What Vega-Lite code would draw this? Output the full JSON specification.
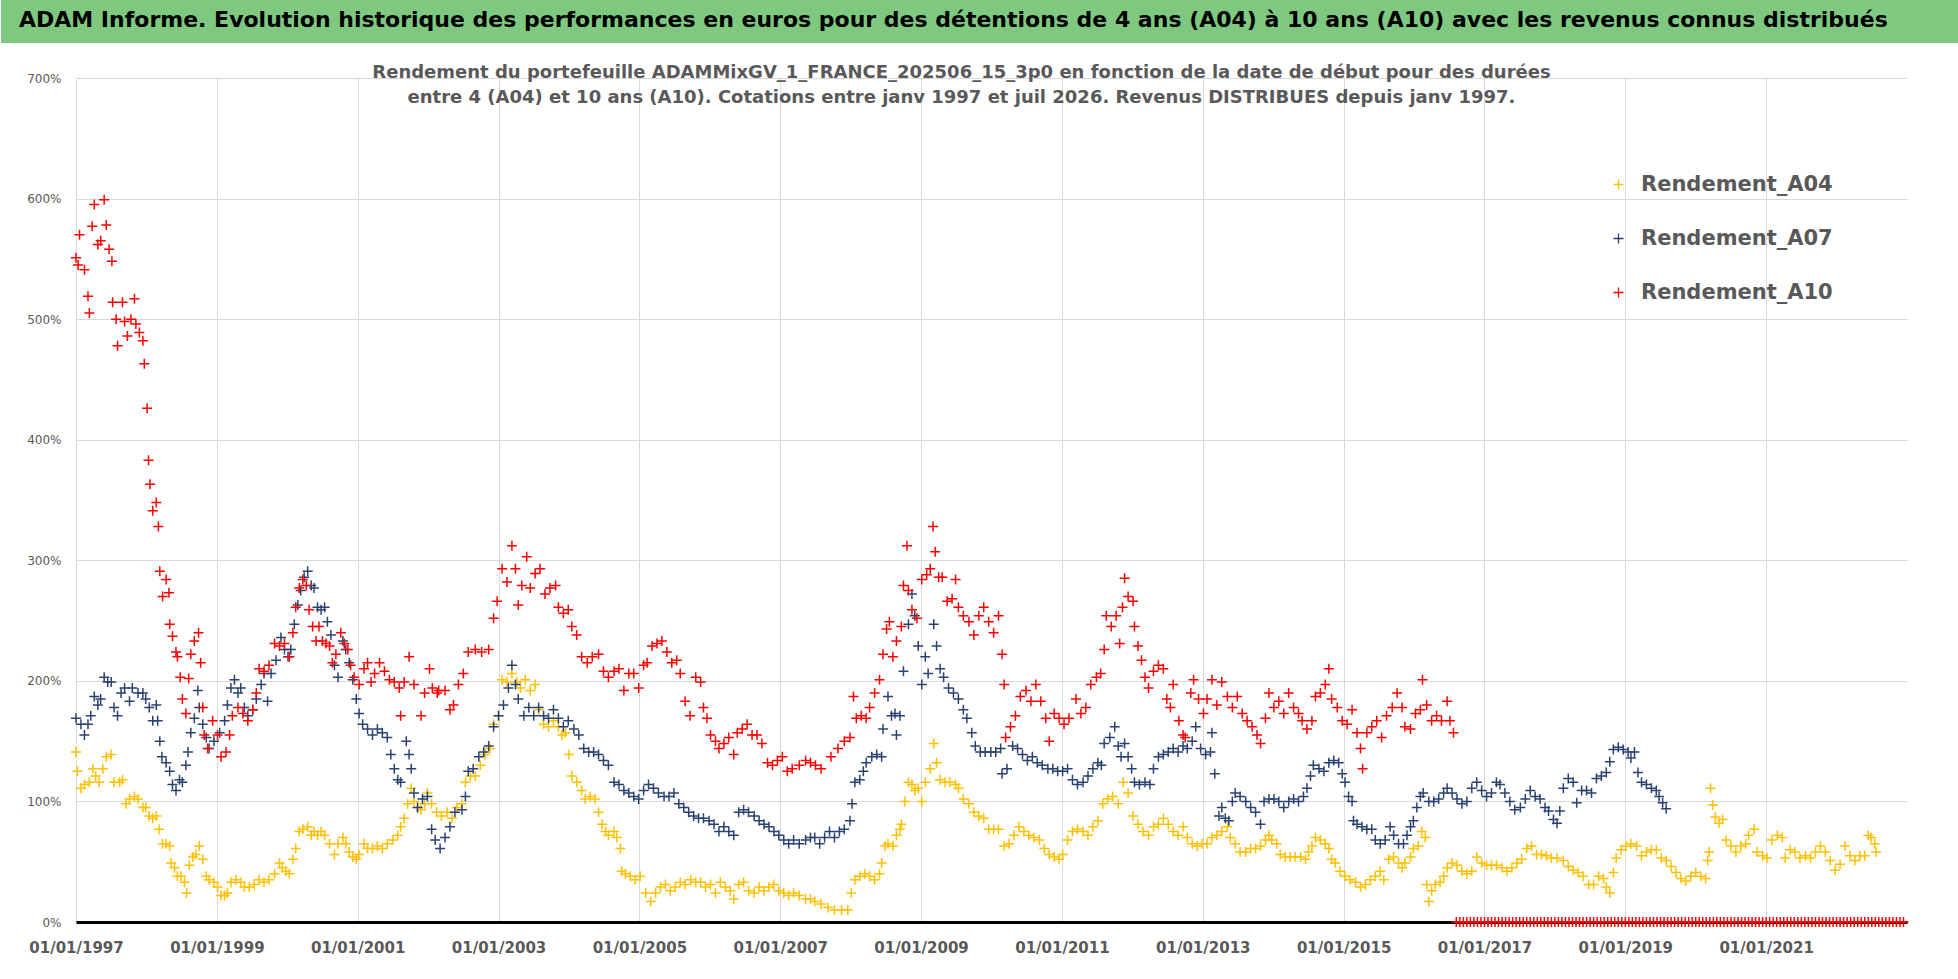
{
"$schema": "https://vega.github.io/schema/vega-lite/v6.json",
"background": "white",
"padding": 0,
"spacing": 21,
"config": {"view": {"stroke": null}, "font": "DejaVu Sans"},
"datasets": {
"a04": [
{"t":1997.00,"v":141},{"t":1997.02,"v":125},{"t":1997.07,"v":111},{"t":1997.12,"v":114},{"t":1997.19,"v":116},{"t":1997.24,"v":127},{"t":1997.28,"v":121},{"t":1997.33,"v":116},{"t":1997.38,"v":127},{"t":1997.43,"v":137},{"t":1997.50,"v":139},{"t":1997.54,"v":116},{"t":1997.62,"v":116},{"t":1997.66,"v":118},{"t":1997.71,"v":98},{"t":1997.76,"v":102},{"t":1997.83,"v":104},{"t":1997.88,"v":102},{"t":1997.95,"v":95},{"t":1997.99,"v":95},
{"t":1998.04,"v":88},{"t":1998.09,"v":86},{"t":1998.14,"v":88},{"t":1998.18,"v":77},{"t":1998.23,"v":65},{"t":1998.28,"v":65},{"t":1998.33,"v":63},{"t":1998.35,"v":49},{"t":1998.40,"v":45},{"t":1998.44,"v":38},{"t":1998.49,"v":38},{"t":1998.54,"v":33},{"t":1998.57,"v":24},{"t":1998.61,"v":47},{"t":1998.66,"v":54},{"t":1998.70,"v":56},{"t":1998.75,"v":63},{"t":1998.80,"v":52},{"t":1998.85,"v":38},{"t":1998.89,"v":35},{"t":1998.96,"v":33},
{"t":1999.01,"v":29},{"t":1999.06,"v":22},{"t":1999.11,"v":22},{"t":1999.15,"v":24},{"t":1999.20,"v":33},{"t":1999.27,"v":35},{"t":1999.34,"v":33},{"t":1999.39,"v":29},{"t":1999.46,"v":29},{"t":1999.53,"v":31},{"t":1999.60,"v":35},{"t":1999.67,"v":33},{"t":1999.74,"v":35},{"t":1999.82,"v":40},{"t":1999.89,"v":49},{"t":1999.93,"v":45},{"t":1999.98,"v":42},
{"t":2000.03,"v":40},{"t":2000.08,"v":52},{"t":2000.12,"v":61},{"t":2000.17,"v":75},{"t":2000.22,"v":77},{"t":2000.29,"v":79},{"t":2000.34,"v":72},{"t":2000.38,"v":75},{"t":2000.43,"v":72},{"t":2000.48,"v":75},{"t":2000.53,"v":72},{"t":2000.60,"v":65},{"t":2000.67,"v":56},{"t":2000.72,"v":65},{"t":2000.79,"v":70},{"t":2000.83,"v":65},{"t":2000.88,"v":58},{"t":2000.93,"v":54},{"t":2000.98,"v":52},
{"t":2001.02,"v":56},{"t":2001.09,"v":65},{"t":2001.14,"v":61},{"t":2001.21,"v":61},{"t":2001.28,"v":63},{"t":2001.35,"v":61},{"t":2001.42,"v":65},{"t":2001.50,"v":68},{"t":2001.57,"v":72},{"t":2001.61,"v":79},{"t":2001.66,"v":86},{"t":2001.71,"v":98},{"t":2001.76,"v":111},{"t":2001.80,"v":100},{"t":2001.85,"v":95},{"t":2001.90,"v":93},{"t":2001.95,"v":98},{"t":2001.99,"v":107},
{"t":2002.05,"v":98},{"t":2002.12,"v":91},{"t":2002.19,"v":88},{"t":2002.27,"v":91},{"t":2002.34,"v":86},{"t":2002.41,"v":95},{"t":2002.48,"v":98},{"t":2002.53,"v":116},{"t":2002.60,"v":121},{"t":2002.67,"v":121},{"t":2002.74,"v":130},{"t":2002.81,"v":139},{"t":2002.88,"v":144},{"t":2002.93,"v":164},
{"t":2003.00,"v":171},{"t":2003.05,"v":201},{"t":2003.12,"v":199},{"t":2003.19,"v":206},{"t":2003.26,"v":199},{"t":2003.31,"v":194},{"t":2003.38,"v":201},{"t":2003.45,"v":192},{"t":2003.52,"v":197},{"t":2003.57,"v":176},{"t":2003.64,"v":164},{"t":2003.71,"v":162},{"t":2003.78,"v":167},{"t":2003.85,"v":162},{"t":2003.90,"v":155},{"t":2003.95,"v":157},
{"t":2004.00,"v":139},{"t":2004.04,"v":121},{"t":2004.11,"v":116},{"t":2004.18,"v":109},{"t":2004.23,"v":102},{"t":2004.30,"v":104},{"t":2004.37,"v":102},{"t":2004.42,"v":91},{"t":2004.47,"v":81},{"t":2004.52,"v":75},{"t":2004.56,"v":72},{"t":2004.64,"v":75},{"t":2004.68,"v":70},{"t":2004.73,"v":61},{"t":2004.75,"v":42},{"t":2004.80,"v":40},{"t":2004.87,"v":38},{"t":2004.94,"v":35},
{"t":2005.01,"v":38},{"t":2005.09,"v":24},{"t":2005.16,"v":17},{"t":2005.23,"v":24},{"t":2005.30,"v":29},{"t":2005.37,"v":31},{"t":2005.44,"v":26},{"t":2005.51,"v":29},{"t":2005.58,"v":33},{"t":2005.65,"v":31},{"t":2005.73,"v":35},{"t":2005.80,"v":33},{"t":2005.87,"v":33},{"t":2005.94,"v":29},
{"t":2006.01,"v":31},{"t":2006.08,"v":24},{"t":2006.15,"v":33},{"t":2006.22,"v":29},{"t":2006.29,"v":26},{"t":2006.34,"v":19},{"t":2006.41,"v":31},{"t":2006.48,"v":33},{"t":2006.55,"v":26},{"t":2006.63,"v":24},{"t":2006.70,"v":29},{"t":2006.77,"v":26},{"t":2006.84,"v":29},{"t":2006.91,"v":31},{"t":2006.98,"v":26},
{"t":2007.05,"v":24},{"t":2007.12,"v":22},{"t":2007.19,"v":24},{"t":2007.27,"v":22},{"t":2007.36,"v":19},{"t":2007.43,"v":19},{"t":2007.49,"v":17},{"t":2007.58,"v":15},{"t":2007.68,"v":12},{"t":2007.77,"v":10},{"t":2007.87,"v":10},{"t":2007.96,"v":10},
{"t":2008.01,"v":24},{"t":2008.06,"v":35},{"t":2008.13,"v":38},{"t":2008.20,"v":40},{"t":2008.27,"v":38},{"t":2008.34,"v":35},{"t":2008.41,"v":40},{"t":2008.44,"v":49},{"t":2008.49,"v":63},{"t":2008.53,"v":65},{"t":2008.60,"v":63},{"t":2008.65,"v":72},{"t":2008.70,"v":77},{"t":2008.72,"v":81},{"t":2008.77,"v":100},{"t":2008.82,"v":116},{"t":2008.87,"v":114},{"t":2008.91,"v":109},{"t":2008.96,"v":111},
{"t":2009.01,"v":100},{"t":2009.06,"v":116},{"t":2009.13,"v":127},{"t":2009.18,"v":148},{"t":2009.22,"v":132},{"t":2009.27,"v":118},{"t":2009.34,"v":116},{"t":2009.41,"v":116},{"t":2009.49,"v":114},{"t":2009.53,"v":111},{"t":2009.60,"v":102},{"t":2009.68,"v":98},{"t":2009.75,"v":91},{"t":2009.82,"v":88},{"t":2009.89,"v":86},{"t":2009.96,"v":77},
{"t":2010.03,"v":77},{"t":2010.10,"v":77},{"t":2010.18,"v":63},{"t":2010.25,"v":65},{"t":2010.32,"v":72},{"t":2010.39,"v":79},{"t":2010.46,"v":75},{"t":2010.53,"v":72},{"t":2010.60,"v":70},{"t":2010.68,"v":68},{"t":2010.75,"v":61},{"t":2010.82,"v":56},{"t":2010.89,"v":54},{"t":2010.96,"v":52},
{"t":2011.01,"v":56},{"t":2011.08,"v":68},{"t":2011.15,"v":75},{"t":2011.22,"v":77},{"t":2011.30,"v":75},{"t":2011.37,"v":72},{"t":2011.44,"v":79},{"t":2011.51,"v":84},{"t":2011.58,"v":98},{"t":2011.65,"v":102},{"t":2011.72,"v":104},{"t":2011.80,"v":98},{"t":2011.87,"v":116},{"t":2011.94,"v":107},
{"t":2012.01,"v":88},{"t":2012.08,"v":81},{"t":2012.15,"v":75},{"t":2012.23,"v":72},{"t":2012.30,"v":79},{"t":2012.37,"v":81},{"t":2012.44,"v":86},{"t":2012.51,"v":81},{"t":2012.58,"v":75},{"t":2012.65,"v":72},{"t":2012.72,"v":79},{"t":2012.78,"v":70},{"t":2012.85,"v":65},{"t":2012.92,"v":63},{"t":2012.99,"v":65},
{"t":2013.06,"v":65},{"t":2013.13,"v":70},{"t":2013.20,"v":72},{"t":2013.27,"v":75},{"t":2013.35,"v":79},{"t":2013.39,"v":70},{"t":2013.46,"v":65},{"t":2013.53,"v":58},{"t":2013.61,"v":58},{"t":2013.68,"v":61},{"t":2013.75,"v":61},{"t":2013.82,"v":63},{"t":2013.89,"v":68},{"t":2013.94,"v":72},{"t":2013.98,"v":68},
{"t":2014.05,"v":65},{"t":2014.10,"v":56},{"t":2014.17,"v":54},{"t":2014.24,"v":54},{"t":2014.31,"v":54},{"t":2014.39,"v":54},{"t":2014.46,"v":52},{"t":2014.50,"v":58},{"t":2014.55,"v":63},{"t":2014.60,"v":70},{"t":2014.67,"v":68},{"t":2014.74,"v":65},{"t":2014.79,"v":61},{"t":2014.83,"v":52},{"t":2014.88,"v":49},{"t":2014.95,"v":42},
{"t":2015.02,"v":38},{"t":2015.09,"v":35},{"t":2015.17,"v":33},{"t":2015.24,"v":29},{"t":2015.31,"v":31},{"t":2015.38,"v":35},{"t":2015.45,"v":38},{"t":2015.52,"v":42},{"t":2015.57,"v":35},{"t":2015.64,"v":52},{"t":2015.71,"v":54},{"t":2015.78,"v":49},{"t":2015.83,"v":45},{"t":2015.87,"v":49},{"t":2015.95,"v":54},{"t":2015.99,"v":61},
{"t":2016.06,"v":63},{"t":2016.11,"v":75},{"t":2016.16,"v":70},{"t":2016.18,"v":31},{"t":2016.21,"v":17},{"t":2016.25,"v":26},{"t":2016.30,"v":31},{"t":2016.37,"v":33},{"t":2016.42,"v":38},{"t":2016.47,"v":45},{"t":2016.54,"v":49},{"t":2016.61,"v":47},{"t":2016.68,"v":42},{"t":2016.75,"v":40},{"t":2016.82,"v":42},{"t":2016.89,"v":54},{"t":2016.96,"v":49},
{"t":2017.03,"v":47},{"t":2017.10,"v":47},{"t":2017.17,"v":47},{"t":2017.25,"v":45},{"t":2017.32,"v":42},{"t":2017.39,"v":45},{"t":2017.46,"v":49},{"t":2017.53,"v":52},{"t":2017.60,"v":61},{"t":2017.67,"v":63},{"t":2017.74,"v":56},{"t":2017.81,"v":56},{"t":2017.88,"v":55},{"t":2017.95,"v":53},
{"t":2018.03,"v":53},{"t":2018.12,"v":51},{"t":2018.19,"v":46},{"t":2018.26,"v":43},{"t":2018.33,"v":41},{"t":2018.40,"v":38},{"t":2018.48,"v":31},{"t":2018.55,"v":31},{"t":2018.62,"v":38},{"t":2018.69,"v":36},{"t":2018.73,"v":29},{"t":2018.78,"v":24},{"t":2018.83,"v":41},{"t":2018.87,"v":53},{"t":2018.94,"v":60},
{"t":2019.01,"v":63},{"t":2019.08,"v":65},{"t":2019.16,"v":63},{"t":2019.23,"v":55},{"t":2019.30,"v":58},{"t":2019.37,"v":60},{"t":2019.44,"v":60},{"t":2019.51,"v":53},{"t":2019.58,"v":51},{"t":2019.65,"v":46},{"t":2019.72,"v":41},{"t":2019.79,"v":36},{"t":2019.86,"v":34},{"t":2019.93,"v":38},
{"t":2020.00,"v":41},{"t":2020.07,"v":38},{"t":2020.14,"v":36},{"t":2020.17,"v":51},{"t":2020.19,"v":58},{"t":2020.21,"v":111},{"t":2020.24,"v":97},{"t":2020.28,"v":87},{"t":2020.33,"v":82},{"t":2020.38,"v":85},{"t":2020.43,"v":68},{"t":2020.50,"v":63},{"t":2020.57,"v":58},{"t":2020.64,"v":63},{"t":2020.71,"v":65},{"t":2020.75,"v":72},{"t":2020.83,"v":77},{"t":2020.87,"v":58},{"t":2020.95,"v":55},
{"t":2021.01,"v":53},{"t":2021.08,"v":68},{"t":2021.16,"v":72},{"t":2021.23,"v":70},{"t":2021.27,"v":53},{"t":2021.34,"v":60},{"t":2021.41,"v":58},{"t":2021.48,"v":53},{"t":2021.56,"v":55},{"t":2021.63,"v":53},{"t":2021.70,"v":58},{"t":2021.77,"v":63},{"t":2021.84,"v":58},{"t":2021.91,"v":51},{"t":2021.98,"v":43},
{"t":2022.05,"v":48},{"t":2022.12,"v":63},{"t":2022.19,"v":55},{"t":2022.26,"v":51},{"t":2022.33,"v":55},{"t":2022.40,"v":55},{"t":2022.45,"v":72},{"t":2022.49,"v":70},{"t":2022.54,"v":65},{"t":2022.56,"v":58}
],
"a07": [
{"t":1997.00,"v":169},{"t":1997.07,"v":164},{"t":1997.12,"v":155},{"t":1997.17,"v":164},{"t":1997.21,"v":171},{"t":1997.26,"v":187},{"t":1997.31,"v":180},{"t":1997.35,"v":185},{"t":1997.40,"v":203},{"t":1997.45,"v":199},{"t":1997.50,"v":199},{"t":1997.54,"v":178},{"t":1997.59,"v":171},{"t":1997.64,"v":190},{"t":1997.69,"v":194},{"t":1997.76,"v":183},{"t":1997.80,"v":194},{"t":1997.88,"v":190},{"t":1997.95,"v":190},{"t":1997.99,"v":185},
{"t":1998.04,"v":178},{"t":1998.09,"v":167},{"t":1998.14,"v":180},{"t":1998.16,"v":167},{"t":1998.19,"v":150},{"t":1998.22,"v":137},{"t":1998.28,"v":132},{"t":1998.33,"v":125},{"t":1998.37,"v":114},{"t":1998.42,"v":109},{"t":1998.47,"v":118},{"t":1998.51,"v":116},{"t":1998.56,"v":130},{"t":1998.59,"v":141},{"t":1998.63,"v":157},{"t":1998.68,"v":169},{"t":1998.73,"v":192},{"t":1998.75,"v":178},{"t":1998.80,"v":164},{"t":1998.85,"v":153},{"t":1998.89,"v":144},{"t":1998.96,"v":150},
{"t":1999.04,"v":157},{"t":1999.11,"v":167},{"t":1999.15,"v":180},{"t":1999.20,"v":194},{"t":1999.25,"v":201},{"t":1999.30,"v":190},{"t":1999.34,"v":194},{"t":1999.39,"v":178},{"t":1999.44,"v":171},{"t":1999.51,"v":176},{"t":1999.56,"v":185},{"t":1999.63,"v":197},{"t":1999.67,"v":206},{"t":1999.72,"v":183},{"t":1999.77,"v":206},{"t":1999.84,"v":217},{"t":1999.91,"v":236},{"t":1999.96,"v":226},
{"t":2000.01,"v":220},{"t":2000.05,"v":226},{"t":2000.10,"v":247},{"t":2000.15,"v":263},{"t":2000.19,"v":275},{"t":2000.24,"v":286},{"t":2000.29,"v":291},{"t":2000.34,"v":279},{"t":2000.38,"v":277},{"t":2000.43,"v":261},{"t":2000.48,"v":259},{"t":2000.53,"v":261},{"t":2000.57,"v":249},{"t":2000.62,"v":238},{"t":2000.67,"v":213},{"t":2000.72,"v":203},{"t":2000.79,"v":233},{"t":2000.83,"v":226},{"t":2000.88,"v":215},{"t":2000.93,"v":201},{"t":2000.98,"v":185},
{"t":2001.02,"v":173},{"t":2001.07,"v":164},{"t":2001.14,"v":160},{"t":2001.21,"v":155},{"t":2001.28,"v":160},{"t":2001.35,"v":157},{"t":2001.42,"v":153},{"t":2001.47,"v":139},{"t":2001.52,"v":127},{"t":2001.57,"v":118},{"t":2001.61,"v":116},{"t":2001.69,"v":150},{"t":2001.73,"v":139},{"t":2001.76,"v":127},{"t":2001.80,"v":107},{"t":2001.85,"v":95},{"t":2001.92,"v":102},{"t":2001.99,"v":104},
{"t":2002.05,"v":77},{"t":2002.10,"v":68},{"t":2002.17,"v":61},{"t":2002.24,"v":70},{"t":2002.31,"v":79},{"t":2002.38,"v":91},{"t":2002.48,"v":93},{"t":2002.53,"v":104},{"t":2002.57,"v":125},{"t":2002.64,"v":127},{"t":2002.72,"v":137},{"t":2002.79,"v":141},{"t":2002.86,"v":146},{"t":2002.93,"v":162},
{"t":2003.00,"v":171},{"t":2003.07,"v":180},{"t":2003.14,"v":194},{"t":2003.19,"v":213},{"t":2003.24,"v":197},{"t":2003.28,"v":185},{"t":2003.36,"v":171},{"t":2003.43,"v":178},{"t":2003.50,"v":171},{"t":2003.57,"v":178},{"t":2003.64,"v":171},{"t":2003.71,"v":169},{"t":2003.78,"v":176},{"t":2003.85,"v":169},{"t":2003.92,"v":162},{"t":2003.99,"v":167},
{"t":2004.07,"v":160},{"t":2004.14,"v":155},{"t":2004.21,"v":144},{"t":2004.28,"v":141},{"t":2004.35,"v":141},{"t":2004.42,"v":139},{"t":2004.49,"v":134},{"t":2004.56,"v":130},{"t":2004.64,"v":116},{"t":2004.71,"v":114},{"t":2004.78,"v":109},{"t":2004.85,"v":107},{"t":2004.92,"v":104},{"t":2004.99,"v":102},
{"t":2005.06,"v":109},{"t":2005.13,"v":114},{"t":2005.20,"v":111},{"t":2005.27,"v":107},{"t":2005.35,"v":104},{"t":2005.42,"v":104},{"t":2005.49,"v":107},{"t":2005.56,"v":98},{"t":2005.63,"v":95},{"t":2005.70,"v":91},{"t":2005.77,"v":88},{"t":2005.84,"v":86},{"t":2005.91,"v":86},{"t":2005.99,"v":84},
{"t":2006.06,"v":81},{"t":2006.13,"v":75},{"t":2006.20,"v":79},{"t":2006.27,"v":75},{"t":2006.34,"v":72},{"t":2006.41,"v":91},{"t":2006.48,"v":93},{"t":2006.55,"v":91},{"t":2006.63,"v":88},{"t":2006.70,"v":84},{"t":2006.77,"v":81},{"t":2006.84,"v":79},{"t":2006.91,"v":75},{"t":2006.98,"v":72},
{"t":2007.05,"v":68},{"t":2007.12,"v":65},{"t":2007.19,"v":68},{"t":2007.27,"v":65},{"t":2007.36,"v":68},{"t":2007.43,"v":70},{"t":2007.49,"v":70},{"t":2007.56,"v":65},{"t":2007.63,"v":70},{"t":2007.70,"v":75},{"t":2007.77,"v":70},{"t":2007.84,"v":75},{"t":2007.91,"v":77},{"t":2007.99,"v":84},
{"t":2008.02,"v":98},{"t":2008.06,"v":116},{"t":2008.13,"v":118},{"t":2008.18,"v":125},{"t":2008.22,"v":132},{"t":2008.30,"v":137},{"t":2008.37,"v":139},{"t":2008.44,"v":137},{"t":2008.46,"v":160},{"t":2008.53,"v":187},{"t":2008.58,"v":171},{"t":2008.63,"v":173},{"t":2008.65,"v":155},{"t":2008.70,"v":171},{"t":2008.75,"v":208},{"t":2008.82,"v":247},{"t":2008.87,"v":272},{"t":2008.91,"v":254},{"t":2008.96,"v":229},
{"t":2009.01,"v":197},{"t":2009.06,"v":220},{"t":2009.10,"v":206},{"t":2009.18,"v":247},{"t":2009.22,"v":229},{"t":2009.27,"v":210},{"t":2009.32,"v":203},{"t":2009.39,"v":194},{"t":2009.46,"v":190},{"t":2009.53,"v":185},{"t":2009.60,"v":176},{"t":2009.65,"v":169},{"t":2009.72,"v":157},{"t":2009.77,"v":146},{"t":2009.84,"v":141},{"t":2009.91,"v":141},{"t":2009.99,"v":141},
{"t":2010.06,"v":141},{"t":2010.13,"v":144},{"t":2010.15,"v":123},{"t":2010.22,"v":127},{"t":2010.30,"v":146},{"t":2010.37,"v":144},{"t":2010.44,"v":139},{"t":2010.51,"v":134},{"t":2010.58,"v":137},{"t":2010.65,"v":132},{"t":2010.72,"v":130},{"t":2010.80,"v":127},{"t":2010.87,"v":127},{"t":2010.94,"v":125},
{"t":2011.01,"v":125},{"t":2011.08,"v":127},{"t":2011.15,"v":118},{"t":2011.22,"v":114},{"t":2011.30,"v":116},{"t":2011.37,"v":121},{"t":2011.44,"v":127},{"t":2011.51,"v":132},{"t":2011.56,"v":130},{"t":2011.60,"v":148},{"t":2011.68,"v":153},{"t":2011.75,"v":162},{"t":2011.80,"v":146},{"t":2011.84,"v":137},{"t":2011.89,"v":148},{"t":2011.94,"v":137},{"t":2011.99,"v":127},
{"t":2012.03,"v":116},{"t":2012.10,"v":114},{"t":2012.18,"v":116},{"t":2012.25,"v":114},{"t":2012.30,"v":127},{"t":2012.37,"v":137},{"t":2012.44,"v":139},{"t":2012.51,"v":141},{"t":2012.58,"v":144},{"t":2012.65,"v":141},{"t":2012.72,"v":146},{"t":2012.78,"v":144},{"t":2012.85,"v":150},{"t":2012.90,"v":162},{"t":2012.97,"v":144},
{"t":2013.04,"v":139},{"t":2013.11,"v":141},{"t":2013.13,"v":157},{"t":2013.17,"v":123},{"t":2013.23,"v":88},{"t":2013.27,"v":95},{"t":2013.32,"v":86},{"t":2013.37,"v":84},{"t":2013.42,"v":100},{"t":2013.46,"v":107},{"t":2013.53,"v":104},{"t":2013.61,"v":100},{"t":2013.68,"v":95},{"t":2013.75,"v":91},{"t":2013.82,"v":81},{"t":2013.87,"v":100},{"t":2013.94,"v":102},
{"t":2014.01,"v":102},{"t":2014.08,"v":100},{"t":2014.15,"v":95},{"t":2014.22,"v":100},{"t":2014.29,"v":102},{"t":2014.36,"v":100},{"t":2014.43,"v":104},{"t":2014.48,"v":111},{"t":2014.53,"v":121},{"t":2014.57,"v":130},{"t":2014.65,"v":127},{"t":2014.72,"v":125},{"t":2014.79,"v":132},{"t":2014.86,"v":134},{"t":2014.93,"v":132},{"t":2014.98,"v":123},
{"t":2015.02,"v":116},{"t":2015.07,"v":104},{"t":2015.12,"v":100},{"t":2015.14,"v":84},{"t":2015.19,"v":81},{"t":2015.26,"v":79},{"t":2015.33,"v":77},{"t":2015.40,"v":77},{"t":2015.45,"v":68},{"t":2015.52,"v":65},{"t":2015.59,"v":68},{"t":2015.66,"v":79},{"t":2015.71,"v":72},{"t":2015.78,"v":65},{"t":2015.85,"v":65},{"t":2015.90,"v":72},{"t":2015.95,"v":79},{"t":2015.99,"v":84},
{"t":2016.04,"v":95},{"t":2016.09,"v":104},{"t":2016.13,"v":107},{"t":2016.21,"v":100},{"t":2016.28,"v":100},{"t":2016.35,"v":102},{"t":2016.42,"v":107},{"t":2016.47,"v":111},{"t":2016.54,"v":107},{"t":2016.61,"v":102},{"t":2016.68,"v":98},{"t":2016.75,"v":100},{"t":2016.82,"v":111},{"t":2016.89,"v":116},{"t":2016.96,"v":109},
{"t":2017.03,"v":104},{"t":2017.10,"v":107},{"t":2017.17,"v":116},{"t":2017.22,"v":114},{"t":2017.29,"v":107},{"t":2017.36,"v":100},{"t":2017.43,"v":93},{"t":2017.51,"v":95},{"t":2017.58,"v":102},{"t":2017.65,"v":109},{"t":2017.72,"v":104},{"t":2017.79,"v":102},{"t":2017.86,"v":95},{"t":2017.91,"v":92},{"t":2017.98,"v":85},
{"t":2018.03,"v":82},{"t":2018.07,"v":92},{"t":2018.12,"v":111},{"t":2018.19,"v":119},{"t":2018.26,"v":116},{"t":2018.31,"v":99},{"t":2018.38,"v":109},{"t":2018.45,"v":109},{"t":2018.52,"v":107},{"t":2018.59,"v":119},{"t":2018.66,"v":121},{"t":2018.73,"v":124},{"t":2018.78,"v":133},{"t":2018.83,"v":143},{"t":2018.90,"v":145},{"t":2018.97,"v":143},
{"t":2019.04,"v":141},{"t":2019.08,"v":136},{"t":2019.13,"v":141},{"t":2019.18,"v":124},{"t":2019.23,"v":116},{"t":2019.30,"v":114},{"t":2019.37,"v":111},{"t":2019.44,"v":109},{"t":2019.48,"v":104},{"t":2019.53,"v":99},{"t":2019.58,"v":94}
],
"a10": [
{"t":1997.00,"v":551},{"t":1997.03,"v":545},{"t":1997.05,"v":570},{"t":1997.12,"v":541},{"t":1997.17,"v":519},{"t":1997.19,"v":505},{"t":1997.23,"v":577},{"t":1997.26,"v":595},{"t":1997.31,"v":562},{"t":1997.35,"v":565},{"t":1997.40,"v":599},{"t":1997.43,"v":578},{"t":1997.47,"v":558},{"t":1997.51,"v":548},{"t":1997.52,"v":514},{"t":1997.57,"v":500},{"t":1997.59,"v":478},{"t":1997.66,"v":514},{"t":1997.69,"v":498},{"t":1997.73,"v":486},{"t":1997.78,"v":500},{"t":1997.83,"v":517},{"t":1997.85,"v":496},{"t":1997.90,"v":489},{"t":1997.95,"v":482},{"t":1997.97,"v":463},
{"t":1998.01,"v":426},{"t":1998.03,"v":383},{"t":1998.05,"v":363},{"t":1998.09,"v":341},{"t":1998.14,"v":348},{"t":1998.17,"v":328},{"t":1998.19,"v":291},{"t":1998.23,"v":270},{"t":1998.28,"v":284},{"t":1998.32,"v":273},{"t":1998.33,"v":247},{"t":1998.37,"v":237},{"t":1998.42,"v":224},{"t":1998.44,"v":220},{"t":1998.48,"v":203},{"t":1998.51,"v":185},{"t":1998.56,"v":173},{"t":1998.60,"v":202},{"t":1998.63,"v":222},{"t":1998.68,"v":233},{"t":1998.74,"v":240},{"t":1998.77,"v":215},{"t":1998.80,"v":178},{"t":1998.82,"v":155},{"t":1998.87,"v":144},{"t":1998.94,"v":167},
{"t":1999.01,"v":155},{"t":1999.06,"v":137},{"t":1999.13,"v":141},{"t":1999.18,"v":155},{"t":1999.22,"v":171},{"t":1999.30,"v":178},{"t":1999.37,"v":173},{"t":1999.44,"v":167},{"t":1999.51,"v":176},{"t":1999.56,"v":190},{"t":1999.60,"v":210},{"t":1999.67,"v":208},{"t":1999.74,"v":213},{"t":1999.82,"v":231},{"t":1999.89,"v":229},{"t":1999.96,"v":231},
{"t":2000.03,"v":220},{"t":2000.08,"v":240},{"t":2000.12,"v":261},{"t":2000.17,"v":277},{"t":2000.22,"v":284},{"t":2000.27,"v":279},{"t":2000.31,"v":259},{"t":2000.36,"v":245},{"t":2000.41,"v":233},{"t":2000.45,"v":245},{"t":2000.50,"v":233},{"t":2000.55,"v":231},{"t":2000.60,"v":229},{"t":2000.64,"v":215},{"t":2000.69,"v":222},{"t":2000.76,"v":240},{"t":2000.81,"v":231},{"t":2000.86,"v":226},{"t":2000.90,"v":213},{"t":2000.95,"v":203},
{"t":2001.02,"v":197},{"t":2001.09,"v":210},{"t":2001.14,"v":215},{"t":2001.19,"v":199},{"t":2001.24,"v":206},{"t":2001.31,"v":215},{"t":2001.38,"v":208},{"t":2001.45,"v":201},{"t":2001.52,"v":199},{"t":2001.59,"v":194},{"t":2001.61,"v":171},{"t":2001.66,"v":199},{"t":2001.73,"v":220},{"t":2001.80,"v":197},{"t":2001.90,"v":171},{"t":2001.95,"v":190},
{"t":2002.02,"v":210},{"t":2002.06,"v":194},{"t":2002.13,"v":190},{"t":2002.15,"v":192},{"t":2002.24,"v":192},{"t":2002.31,"v":176},{"t":2002.36,"v":180},{"t":2002.43,"v":197},{"t":2002.50,"v":206},{"t":2002.57,"v":224},{"t":2002.67,"v":226},{"t":2002.76,"v":224},{"t":2002.86,"v":226},{"t":2002.93,"v":252},{"t":2002.98,"v":266},
{"t":2003.05,"v":293},{"t":2003.12,"v":282},{"t":2003.19,"v":312},{"t":2003.24,"v":293},{"t":2003.28,"v":263},{"t":2003.33,"v":279},{"t":2003.40,"v":303},{"t":2003.45,"v":277},{"t":2003.52,"v":289},{"t":2003.59,"v":293},{"t":2003.66,"v":272},{"t":2003.73,"v":277},{"t":2003.81,"v":279},{"t":2003.85,"v":261},{"t":2003.92,"v":256},{"t":2003.99,"v":259},
{"t":2004.04,"v":245},{"t":2004.11,"v":238},{"t":2004.18,"v":220},{"t":2004.26,"v":215},{"t":2004.33,"v":220},{"t":2004.42,"v":222},{"t":2004.49,"v":208},{"t":2004.56,"v":203},{"t":2004.64,"v":208},{"t":2004.71,"v":210},{"t":2004.78,"v":192},{"t":2004.85,"v":206},{"t":2004.92,"v":206},{"t":2004.99,"v":194},
{"t":2005.06,"v":213},{"t":2005.11,"v":215},{"t":2005.18,"v":229},{"t":2005.25,"v":231},{"t":2005.32,"v":233},{"t":2005.39,"v":224},{"t":2005.46,"v":215},{"t":2005.53,"v":217},{"t":2005.58,"v":206},{"t":2005.65,"v":183},{"t":2005.72,"v":171},{"t":2005.80,"v":203},{"t":2005.87,"v":199},{"t":2005.91,"v":178},{"t":2005.96,"v":169},
{"t":2006.01,"v":155},{"t":2006.08,"v":150},{"t":2006.13,"v":144},{"t":2006.20,"v":148},{"t":2006.27,"v":153},{"t":2006.34,"v":139},{"t":2006.39,"v":157},{"t":2006.46,"v":160},{"t":2006.53,"v":164},{"t":2006.60,"v":155},{"t":2006.67,"v":155},{"t":2006.74,"v":148},{"t":2006.82,"v":132},{"t":2006.89,"v":130},{"t":2006.96,"v":134},
{"t":2007.03,"v":137},{"t":2007.10,"v":125},{"t":2007.17,"v":127},{"t":2007.27,"v":130},{"t":2007.36,"v":134},{"t":2007.43,"v":132},{"t":2007.50,"v":130},{"t":2007.58,"v":127},{"t":2007.72,"v":137},{"t":2007.82,"v":144},{"t":2007.91,"v":150},{"t":2007.99,"v":153},
{"t":2008.04,"v":187},{"t":2008.08,"v":169},{"t":2008.15,"v":171},{"t":2008.22,"v":169},{"t":2008.27,"v":178},{"t":2008.34,"v":190},{"t":2008.41,"v":201},{"t":2008.46,"v":222},{"t":2008.51,"v":243},{"t":2008.55,"v":249},{"t":2008.60,"v":220},{"t":2008.65,"v":233},{"t":2008.72,"v":245},{"t":2008.75,"v":279},{"t":2008.80,"v":312},{"t":2008.82,"v":275},{"t":2008.87,"v":259},{"t":2008.94,"v":252},
{"t":2009.01,"v":284},{"t":2009.08,"v":288},{"t":2009.13,"v":293},{"t":2009.17,"v":328},{"t":2009.20,"v":307},{"t":2009.25,"v":286},{"t":2009.30,"v":286},{"t":2009.37,"v":266},{"t":2009.44,"v":268},{"t":2009.49,"v":284},{"t":2009.53,"v":261},{"t":2009.60,"v":254},{"t":2009.68,"v":249},{"t":2009.75,"v":238},{"t":2009.82,"v":254},{"t":2009.89,"v":261},{"t":2009.96,"v":249},
{"t":2010.03,"v":240},{"t":2010.10,"v":254},{"t":2010.15,"v":222},{"t":2010.18,"v":197},{"t":2010.20,"v":153},{"t":2010.27,"v":162},{"t":2010.34,"v":171},{"t":2010.41,"v":187},{"t":2010.49,"v":192},{"t":2010.56,"v":183},{"t":2010.63,"v":197},{"t":2010.70,"v":183},{"t":2010.77,"v":169},{"t":2010.82,"v":150},{"t":2010.89,"v":173},{"t":2010.96,"v":169},
{"t":2011.03,"v":164},{"t":2011.10,"v":169},{"t":2011.20,"v":185},{"t":2011.27,"v":173},{"t":2011.34,"v":178},{"t":2011.41,"v":197},{"t":2011.49,"v":203},{"t":2011.55,"v":206},{"t":2011.60,"v":226},{"t":2011.63,"v":254},{"t":2011.70,"v":245},{"t":2011.77,"v":254},{"t":2011.82,"v":231},{"t":2011.86,"v":261},{"t":2011.89,"v":285},{"t":2011.94,"v":270},
{"t":2012.01,"v":266},{"t":2012.03,"v":245},{"t":2012.08,"v":229},{"t":2012.13,"v":217},{"t":2012.18,"v":203},{"t":2012.23,"v":194},{"t":2012.30,"v":208},{"t":2012.37,"v":213},{"t":2012.44,"v":210},{"t":2012.49,"v":185},{"t":2012.54,"v":178},{"t":2012.58,"v":197},{"t":2012.66,"v":167},{"t":2012.72,"v":155},{"t":2012.75,"v":153},{"t":2012.83,"v":190},{"t":2012.87,"v":201},{"t":2012.94,"v":185},
{"t":2013.01,"v":173},{"t":2013.06,"v":185},{"t":2013.13,"v":201},{"t":2013.20,"v":180},{"t":2013.27,"v":199},{"t":2013.35,"v":187},{"t":2013.42,"v":178},{"t":2013.49,"v":187},{"t":2013.56,"v":173},{"t":2013.63,"v":167},{"t":2013.70,"v":162},{"t":2013.77,"v":155},{"t":2013.82,"v":148},{"t":2013.89,"v":169},{"t":2013.94,"v":190},
{"t":2014.01,"v":178},{"t":2014.08,"v":183},{"t":2014.15,"v":173},{"t":2014.22,"v":190},{"t":2014.29,"v":178},{"t":2014.36,"v":173},{"t":2014.41,"v":167},{"t":2014.48,"v":160},{"t":2014.55,"v":167},{"t":2014.60,"v":187},{"t":2014.67,"v":190},{"t":2014.74,"v":197},{"t":2014.79,"v":210},{"t":2014.83,"v":185},{"t":2014.91,"v":178},{"t":2014.98,"v":167},
{"t":2015.05,"v":164},{"t":2015.12,"v":176},{"t":2015.19,"v":157},{"t":2015.24,"v":144},{"t":2015.27,"v":127},{"t":2015.33,"v":157},{"t":2015.40,"v":162},{"t":2015.47,"v":167},{"t":2015.54,"v":153},{"t":2015.61,"v":171},{"t":2015.69,"v":178},{"t":2015.76,"v":190},{"t":2015.83,"v":178},{"t":2015.87,"v":162},{"t":2015.95,"v":160},
{"t":2016.02,"v":173},{"t":2016.09,"v":176},{"t":2016.12,"v":201},{"t":2016.18,"v":180},{"t":2016.25,"v":167},{"t":2016.32,"v":171},{"t":2016.39,"v":167},{"t":2016.47,"v":183},{"t":2016.51,"v":167},{"t":2016.56,"v":157},
{"t":2016.60,"v":0},{"t":2016.65,"v":0},{"t":2016.70,"v":0},{"t":2016.75,"v":0},{"t":2016.80,"v":0},{"t":2016.85,"v":0},{"t":2016.90,"v":0},{"t":2016.95,"v":0},
{"t":2017.00,"v":0},{"t":2017.05,"v":0},{"t":2017.10,"v":0},{"t":2017.15,"v":0},{"t":2017.20,"v":0},{"t":2017.25,"v":0},{"t":2017.30,"v":0},{"t":2017.35,"v":0},{"t":2017.40,"v":0},{"t":2017.45,"v":0},{"t":2017.50,"v":0},{"t":2017.55,"v":0},{"t":2017.60,"v":0},{"t":2017.65,"v":0},{"t":2017.70,"v":0},{"t":2017.75,"v":0},{"t":2017.80,"v":0},{"t":2017.85,"v":0},{"t":2017.90,"v":0},{"t":2017.95,"v":0},
{"t":2018.00,"v":0},{"t":2018.05,"v":0},{"t":2018.10,"v":0},{"t":2018.15,"v":0},{"t":2018.20,"v":0},{"t":2018.25,"v":0},{"t":2018.30,"v":0},{"t":2018.35,"v":0},{"t":2018.40,"v":0},{"t":2018.45,"v":0},{"t":2018.50,"v":0},{"t":2018.55,"v":0},{"t":2018.60,"v":0},{"t":2018.65,"v":0},{"t":2018.70,"v":0},{"t":2018.75,"v":0},{"t":2018.80,"v":0},{"t":2018.85,"v":0},{"t":2018.90,"v":0},{"t":2018.95,"v":0},
{"t":2019.00,"v":0},{"t":2019.05,"v":0},{"t":2019.10,"v":0},{"t":2019.15,"v":0},{"t":2019.20,"v":0},{"t":2019.25,"v":0},{"t":2019.30,"v":0},{"t":2019.35,"v":0},{"t":2019.40,"v":0},{"t":2019.45,"v":0},{"t":2019.50,"v":0},{"t":2019.55,"v":0},{"t":2019.60,"v":0},{"t":2019.65,"v":0},{"t":2019.70,"v":0},{"t":2019.75,"v":0},{"t":2019.80,"v":0},{"t":2019.85,"v":0},{"t":2019.90,"v":0},{"t":2019.95,"v":0},
{"t":2020.00,"v":0},{"t":2020.05,"v":0},{"t":2020.10,"v":0},{"t":2020.15,"v":0},{"t":2020.20,"v":0},{"t":2020.25,"v":0},{"t":2020.30,"v":0},{"t":2020.35,"v":0},{"t":2020.40,"v":0},{"t":2020.45,"v":0},{"t":2020.50,"v":0},{"t":2020.55,"v":0},{"t":2020.60,"v":0},{"t":2020.65,"v":0},{"t":2020.70,"v":0},{"t":2020.75,"v":0},{"t":2020.80,"v":0},{"t":2020.85,"v":0},{"t":2020.90,"v":0},{"t":2020.95,"v":0},
{"t":2021.00,"v":0},{"t":2021.05,"v":0},{"t":2021.10,"v":0},{"t":2021.15,"v":0},{"t":2021.20,"v":0},{"t":2021.25,"v":0},{"t":2021.30,"v":0},{"t":2021.35,"v":0},{"t":2021.40,"v":0},{"t":2021.45,"v":0},{"t":2021.50,"v":0},{"t":2021.55,"v":0},{"t":2021.60,"v":0},{"t":2021.65,"v":0},{"t":2021.70,"v":0},{"t":2021.75,"v":0},{"t":2021.80,"v":0},{"t":2021.85,"v":0},{"t":2021.90,"v":0},{"t":2021.95,"v":0},
{"t":2022.00,"v":0},{"t":2022.05,"v":0},{"t":2022.10,"v":0},{"t":2022.15,"v":0},{"t":2022.20,"v":0},{"t":2022.25,"v":0},{"t":2022.30,"v":0},{"t":2022.35,"v":0},{"t":2022.40,"v":0},{"t":2022.45,"v":0},{"t":2022.50,"v":0},{"t":2022.55,"v":0},{"t":2022.60,"v":0},{"t":2022.65,"v":0},{"t":2022.70,"v":0},{"t":2022.75,"v":0},{"t":2022.80,"v":0},{"t":2022.85,"v":0},{"t":2022.90,"v":0},{"t":2022.95,"v":0}
]
},
"vconcat": [
{
"width": 1958,
"height": 43,
"view": {"fill": "#7FC87F", "stroke": null},
"title": {"text": "ADAM Informe. Evolution historique des performances en euros pour des détentions de 4 ans (A04) à 10 ans (A10) avec les revenus connus distribués", "orient": "top", "anchor": "start", "frame": "group", "offset": -32, "dx": 18, "font": "DejaVu Sans", "fontSize": 22, "fontWeight": "bold", "color": "#000000"},
"data": {"values": []},
"mark": "point"
},
{
"spacing": 0,
"hconcat": [
{
"width": 24,
"height": 10,
"view": {"stroke": "#ffffff"},
"data": {"values": []},
"mark": "point"
},
{
"width": 1831,
"height": 844,
"title": {"text": ["Rendement du portefeuille ADAMMixGV_1_FRANCE_202506_15_3p0  en fonction de la date de début pour des durées", "entre 4 (A04) et 10 ans (A10). Cotations entre janv 1997 et juil 2026. Revenus DISTRIBUES depuis janv 1997."], "anchor": "middle", "dx": -30, "offset": -35, "font": "DejaVu Sans", "fontSize": 18, "fontWeight": "bold", "color": "#595959", "lineHeight": 25},
"encoding": {
"x": {"field": "t", "type": "quantitative", "scale": {"domain": [1997, 2023], "nice": false, "zero": false}, "axis": {"values": [1997, 1999, 2001, 2003, 2005, 2007, 2009, 2011, 2013, 2015, 2017, 2019, 2021], "labelExpr": "'01/01/' + datum.value", "title": null, "grid": true, "gridColor": "#D9D9D9", "ticks": false, "domain": true, "domainColor": "#000000", "domainWidth": 3, "labelFont": "DejaVu Sans", "labelFontSize": 15, "labelFontWeight": "bold", "labelColor": "#595959", "labelPadding": 18, "labelFlush": false}},
"y": {"field": "v", "type": "quantitative", "scale": {"domain": [0, 700], "nice": false}, "axis": {"values": [0, 100, 200, 300, 400, 500, 600, 700], "labelExpr": "datum.value + '%'", "title": null, "grid": true, "gridColor": "#D9D9D9", "ticks": false, "domain": false, "labelFont": "DejaVu Sans", "labelFontSize": 12, "labelColor": "#595959", "labelPadding": 15}}
},
"layer": [
{
"data": {"name": "a04"},
"mark": {"type": "point", "shape": "M-1,0H1M0,-1V1", "filled": false, "size": 100, "strokeWidth": 1.5, "opacity": 1},
"encoding": {"color": {"datum": "Rendement_A04", "type": "nominal", "scale": {"domain": ["Rendement_A04", "Rendement_A07", "Rendement_A10"], "range": ["#FFC000", "#2A4271", "#FF0000"]}, "legend": {"orient": "none", "legendX": 1607, "legendY": 174, "direction": "vertical", "title": null, "labelFont": "DejaVu Sans", "labelFontSize": 21, "labelFontWeight": "bold", "labelColor": "#595959", "labelLimit": 500, "symbolType": "M-1,0H1M0,-1V1", "symbolSize": 100, "symbolStrokeWidth": 1.3, "symbolOpacity": 1, "rowPadding": 32, "labelOffset": 12}}}
},
{
"data": {"name": "a07"},
"mark": {"type": "point", "shape": "M-1,0H1M0,-1V1", "filled": false, "size": 100, "strokeWidth": 1.5, "opacity": 1},
"encoding": {"color": {"datum": "Rendement_A07", "type": "nominal"}}
},
{
"data": {"name": "a10"},
"mark": {"type": "point", "shape": "M-1,0H1M0,-1V1", "filled": false, "size": 100, "strokeWidth": 1.5, "opacity": 1},
"encoding": {"color": {"datum": "Rendement_A10", "type": "nominal"}}
}
]
}
]
}
]
}
